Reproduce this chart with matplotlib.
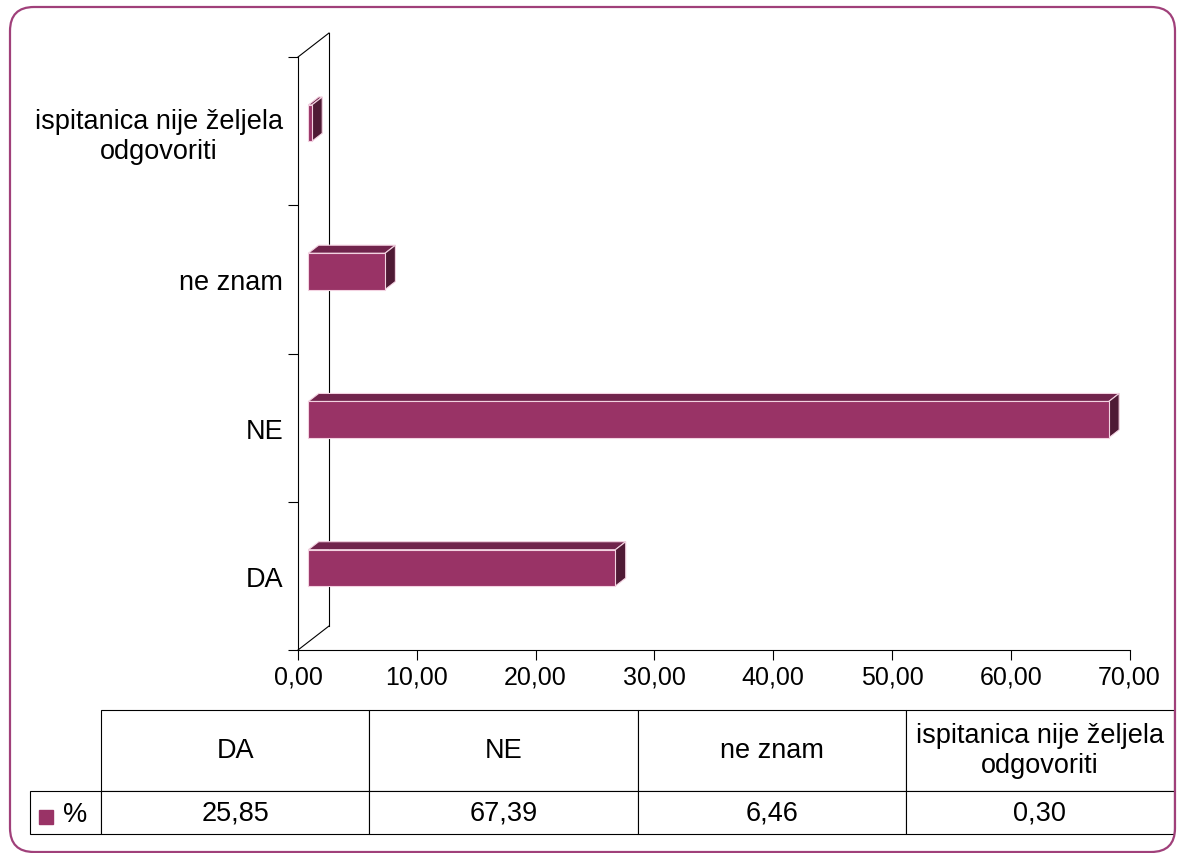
import numpy as np
import matplotlib.pyplot as plt
from matplotlib.patches import Polygon, FancyBboxPatch
from matplotlib.table import Table
from matplotlib.transforms import IdentityTransform
from matplotlib.ticker import FuncFormatter

plt.rcParams['font.family'] = ['Liberation Sans', 'DejaVu Sans']

# data
categories = ['DA', 'NE', 'ne znam', 'ispitanica nije željela\nodgovoriti']
values = [25.85, 67.39, 6.46, 0.30]
value_labels = ['25,85', '67,39', '6,46', '0,30']
series_name = '%'
x_ticks = [0, 10, 20, 30, 40, 50, 60, 70]

W, H = 1178, 854
fig = plt.figure(figsize=(W / 100, H / 100), dpi=100)


def px_box(x0, y0, x1, y1):
    # image pixels (top-left origin) -> figure fraction rect
    return [x0 / W, 1 - y1 / H, (x1 - x0) / W, (y1 - y0) / H]


front_c = '#993366'
top_c = '#71244c'
side_c = '#4f1a35'
edge_c = '#f3d2e1'

ax = fig.add_axes(px_box(298, 58, 1129.5, 651))
ax.set_xlim(0, 70)
ax.set_ylim(-0.5, len(categories) - 0.5)

# 3d depth of the plot, in pixels (right, up)
depth = np.array([31.0, 24.0])
ux = ax.bbox.width / 70
uy = ax.bbox.height / len(categories)


def off(frac):
    return depth[0] * frac / ux, depth[1] * frac / uy


# back wall
dx, dy = off(1)
y0, y1 = ax.get_ylim()
wall_kw = dict(color='black', lw=0.8, clip_on=False, zorder=1)
ax.plot([0, dx], [y0, y0 + dy], **wall_kw)
ax.plot([0, dx], [y1, y1 + dy], **wall_kw)
ax.plot([dx, dx], [y0 + dy, y1 + dy], **wall_kw)

# bars: front face sits 1/3 into the depth, back face at 2/3
bh = 0.245
fx, fy = off(1 / 3)
bx, by = off(2 / 3)
ypos = np.arange(len(categories))
for y, v in zip(ypos, values):
    top = [(fx, y + fy + bh / 2), (fx + v, y + fy + bh / 2),
           (bx + v, y + by + bh / 2), (bx, y + by + bh / 2)]
    side = [(fx + v, y + fy - bh / 2), (fx + v, y + fy + bh / 2),
            (bx + v, y + by + bh / 2), (bx + v, y + by - bh / 2)]
    ax.add_patch(Polygon(top, closed=True, fc=top_c, ec=edge_c, lw=0.8, zorder=3))
    ax.add_patch(Polygon(side, closed=True, fc=side_c, ec=edge_c, lw=0.8, zorder=3))
ax.barh(ypos + fy, values, height=bh, left=fx, color=front_c,
        edgecolor=edge_c, linewidth=0.8, zorder=4)

ax.spines['top'].set_visible(False)
ax.spines['right'].set_visible(False)
for s in ['left', 'bottom']:
    ax.spines[s].set_linewidth(0.8)
    ax.spines[s].set_zorder(2)

ax.set_xticks(x_ticks)
ax.xaxis.set_major_formatter(FuncFormatter(lambda v, p: f'{v:.2f}'.replace('.', ',')))
ax.tick_params(axis='x', direction='out', length=7.2, width=0.8, pad=3.5, labelsize=18)
ax.set_yticks(ypos)
ax.set_yticklabels(categories, fontsize=19.5, ha='right', multialignment='center')
ax.set_yticks(np.arange(-0.5, len(categories)), minor=True)
ax.tick_params(axis='y', which='major', length=0, pad=10.8)
ax.tick_params(axis='y', which='minor', direction='out', length=7.2, width=0.8)

# data table under the chart
tax_w, tax_h = 1144, 124
tax = fig.add_axes(px_box(30, 711, 30 + tax_w, 711 + tax_h))
tax.set_axis_off()
col_w, lab_w, head_h, row_h = 268.25 / tax_w, 71 / tax_w, 81 / tax_h, 43 / tax_h
tab = Table(tax, bbox=[lab_w, 0, 1 - lab_w, 1])
for j, (c, v) in enumerate(zip(categories, value_labels)):
    tab.add_cell(0, j, width=col_w, height=head_h, text=c, loc='center')
    tab.add_cell(1, j, width=col_w, height=row_h, text=v, loc='center')
tab.add_cell(1, -1, width=lab_w, height=row_h, text='', loc='center')
tab.auto_set_font_size(False)
tab.set_fontsize(19.5)
for cell in tab.get_celld().values():
    cell.set_linewidth(0.8)
    cell.set_edgecolor('black')
    cell.get_text().set_multialignment('center')
tax.add_table(tab)
tax.plot([16 / tax_w], [0.14], marker='s', ms=9.4, color=front_c,
         transform=tax.transAxes, clip_on=False)
tax.text(45 / tax_w, 0.16, series_name, fontsize=19.5, ha='center', va='center',
         transform=tax.transAxes)

# rounded outer frame
frame = FancyBboxPatch((10, 1), 1165, 845, boxstyle='round,pad=0,rounding_size=24',
                       transform=IdentityTransform(), fill=False, ec='#a0407a', lw=1.6)
fig.add_artist(frame)

fig.savefig('out.png', dpi=100)
